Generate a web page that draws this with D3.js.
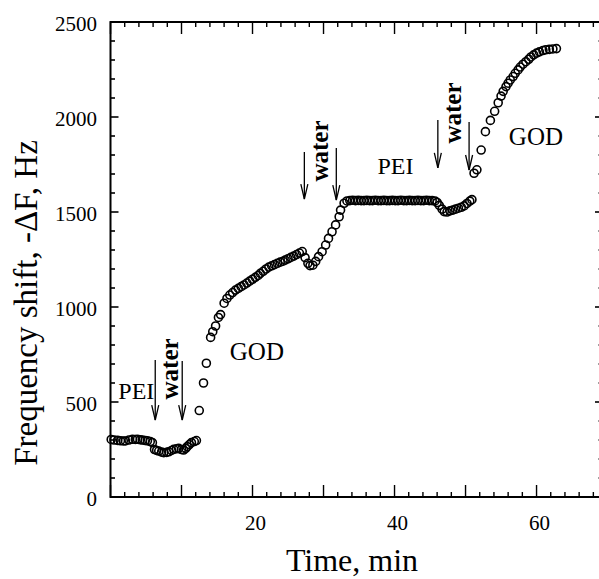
<!DOCTYPE html>
<html><head><meta charset="utf-8">
<script src="https://cdn.jsdelivr.net/npm/d3@7"></script>
<style>html,body{margin:0;padding:0;background:#fff;}svg{display:block;}</style>
</head><body>
<script>
// ---- data (time in min, -ΔF in Hz) ----
const times = [
 0.1,0.5,1.0,1.4,1.8,2.1,2.6,3.1,3.5,3.8,4.2,4.5,4.9,5.2,5.6,5.9,
 6.2,6.5,6.8,7.2,7.5,7.9,8.2,8.6,8.9,9.3,9.6,10.0,10.3,10.6,10.8,11.1,11.4,11.8,12.1,
 12.5,13.1,13.5,14.1,14.4,14.8,15.2,15.5,16.0,16.4,16.8,17.2,17.6,18.0,18.4,18.8,19.2,19.6,20.0,20.4,20.8,21.1,21.5,21.9,22.3,22.7,23.1,23.5,23.9,24.3,24.6,25.0,25.4,25.8,26.2,26.6,27.0,
 27.4,27.8,28.1,28.5,28.9,29.3,29.8,30.3,30.7,31.2,31.7,32.2,32.4,32.9,33.3,
 33.7,34.1,34.5,34.9,35.3,35.7,36.1,36.5,36.9,37.3,37.7,38.1,38.5,38.9,39.3,39.7,40.1,40.5,40.9,41.3,41.7,42.1,42.5,42.9,43.3,43.7,44.1,44.5,44.9,45.3,45.7,
 46.0,46.3,46.7,47.0,47.4,47.8,48.2,48.6,49.0,49.4,49.8,50.2,50.6,50.9,
 51.2,51.6,52.2,52.8,53.5,54.1,54.6,55.0,55.3,55.7,56.0,56.3,56.7,57.0,57.4,57.7,58.1,58.5,58.9,59.2,59.6,60.0,60.4,60.9,61.3,61.8,62.3,62.8
];
const shifts = [
 303,300,298,296,295,295,300,304,303,304,301,300,297,296,292,286,
 250,245,242,236,233,235,238,245,251,254,256,250,247,256,265,276,286,292,297,
 455,600,704,840,870,900,945,960,1020,1045,1063,1076,1089,1098,1107,1116,1126,1136,1146,1156,1166,1177,1188,1200,1210,1217,1223,1230,1236,1241,1247,1254,1261,1268,1276,1284,1292,
 1260,1230,1218,1220,1240,1265,1291,1326,1361,1396,1432,1475,1510,1546,1558,
 1560,1562,1560,1561,1560,1560,1561,1560,1560,1562,1560,1560,1561,1560,1560,1561,1560,1560,1562,1560,1560,1561,1560,1560,1561,1560,1560,1562,1560,1560,1558,
 1550,1535,1515,1502,1500,1506,1510,1515,1520,1525,1532,1545,1557,1565,
 1704,1722,1826,1923,1982,2030,2075,2110,2135,2160,2178,2195,2213,2230,2248,2263,2278,2291,2304,2316,2327,2336,2343,2350,2354,2356,2358,2360
];
const xTickLabels = [20, 40, 60];
const yTickLabels = [0, 500, 1000, 1500, 2000, 2500];
const xTitle = "Time, min";
const yTitle = "Frequency shift, -\u0394F, Hz";
// annotations (data coordinates)
const labelTexts = ["PEI", "GOD", "PEI", "GOD"];
const labelT = [1.1, 16.8, 37.6, 56.1];
const labelV = [516, 721, 1700, 1853];
const waterT = [9.5, 30.7, 49.4];
const waterV = [674, 1821, 2021];
const arrowT = [6.3, 10.1, 27.3, 31.8, 46.1, 50.5];
const arrowTop = [721, 716, 1816, 1837, 1984, 1974];
const arrowTip = [405, 405, 1568, 1563, 1732, 1721];

const W = 599, H = 579;
const svg = d3.select("body").append("svg").attr("width", W).attr("height", H);
const x = d3.scaleLinear().domain([0, 69.5]).range([110.5, 604]);
const y = d3.scaleLinear().domain([0, 2500]).range([497, 22]);
const font = "'Liberation Serif', 'Times New Roman', serif";

const x0 = x.range()[0], x1 = x.range()[1], y0 = y.range()[0], y1 = y.range()[1];
const minorX = d3.range(0, 70, 2), majorX = d3.range(0, 70, 10);
const minorY = d3.range(0, 2501, 100), majorY = d3.range(0, 2501, 500);

const axes = svg.append("g").attr("stroke", "#000").attr("fill", "none");
// frame
axes.append("path").attr("stroke-width", 2)
  .attr("d", `M${x0},${y1}V${y0}H${x1}V${y1}H${x0}Z`);
// bottom & top ticks
minorX.forEach(t => {
  const big = t % 10 === 0, xx = x(t);
  axes.append("line").attr("x1", xx).attr("x2", xx).attr("y1", y0).attr("y2", y0 - (big ? 12 : 5)).attr("stroke-width", 1.4);
  axes.append("line").attr("x1", xx).attr("x2", xx).attr("y1", y1).attr("y2", y1 + (big ? 12 : 5)).attr("stroke-width", 1.4);
});
minorY.forEach(v => {
  const big = v % 500 === 0, yy = y(v);
  axes.append("line").attr("x1", x0).attr("x2", x0 + (big ? 8 : 4.5)).attr("y1", yy).attr("y2", yy).attr("stroke-width", 1.6);
  axes.append("line").attr("x1", x1).attr("x2", x1 - (big ? 9 : 5.5)).attr("y1", yy).attr("y2", yy).attr("stroke-width", 1.6);
});

// tick labels
svg.append("g").selectAll("text").data(xTickLabels).join("text")
  .attr("x", d => x(d) + 3).attr("y", 530).attr("text-anchor", "middle")
  .attr("font-family", font).attr("font-size", 21).text(d => d);
svg.append("g").selectAll("text").data(yTickLabels).join("text")
  .attr("x", 97).attr("y", d => y(d) + 9).attr("text-anchor", "end")
  .attr("font-family", font).attr("font-size", 21).text(d => d);

// titles
svg.append("text").attr("x", 352).attr("y", 571).attr("text-anchor", "middle")
  .attr("font-family", font).attr("font-size", 32).text(xTitle);
svg.append("text").attr("transform", "translate(37,303) rotate(-90)").attr("text-anchor", "middle")
  .attr("font-family", font).attr("font-size", 33).text(yTitle);

// data points
const pts = times.map((t, i) => ({t, v: shifts[i]}));
svg.append("g").selectAll("circle").data(pts).join("circle")
  .attr("cx", d => x(d.t)).attr("cy", d => y(d.v)).attr("r", 4)
  .attr("fill", "none").attr("stroke", "#000").attr("stroke-width", 1.6);

// labels
svg.append("g").selectAll("text").data(labelTexts).join("text")
  .attr("x", (d, i) => x(labelT[i])).attr("y", (d, i) => y(labelV[i]))
  .attr("font-family", font).attr("font-size", (d) => d === "GOD" ? 25 : 24).text(d => d);
svg.append("g").selectAll("text").data(waterT).join("text")
  .attr("transform", (d, i) => `translate(${x(d)},${y(waterV[i])}) rotate(-90)`)
  .attr("text-anchor", "middle").attr("font-family", font).attr("font-weight", "bold")
  .attr("font-size", 25).text("water");
// arrows
const ag = svg.append("g").attr("stroke", "#000").attr("fill", "none").attr("stroke-width", 1.3);
arrowT.forEach((t, i) => {
  const ax = x(t), top = y(arrowTop[i]), tip = y(arrowTip[i]);
  ag.append("line").attr("x1", ax).attr("x2", ax).attr("y1", top).attr("y2", tip);
  ag.append("path").attr("d", `M${ax - 3.5},${tip - 15}L${ax},${tip}L${ax + 3.5},${tip - 15}`);
});
</script>
</body></html>
